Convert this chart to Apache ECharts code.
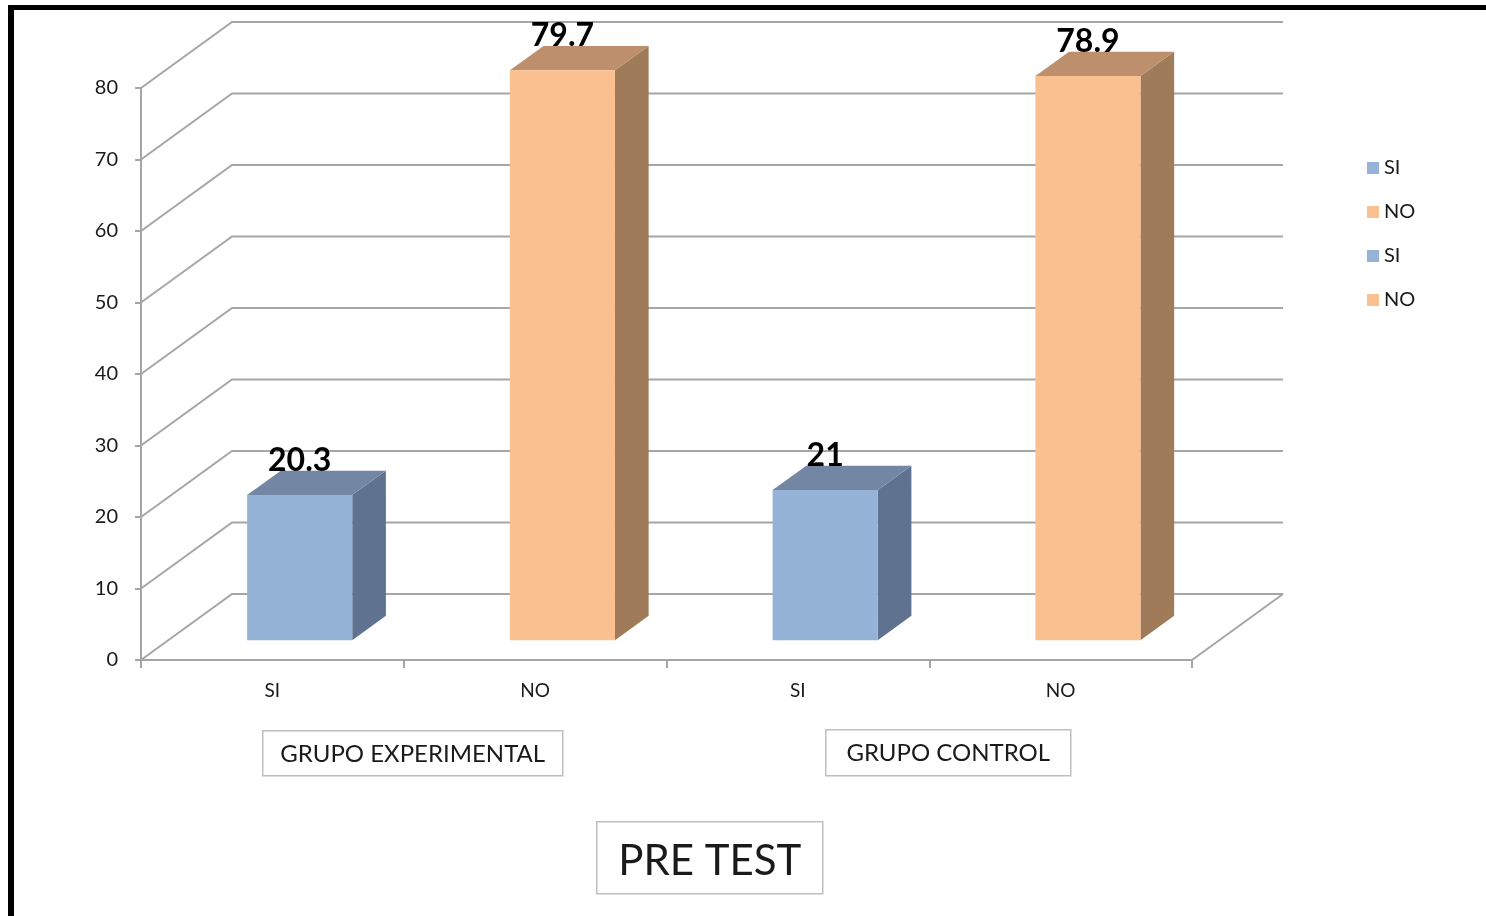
<!DOCTYPE html>
<html><head><meta charset="utf-8">
<script src="https://cdn.jsdelivr.net/npm/echarts@6/dist/echarts.min.js"></script>
<style>html,body{margin:0;padding:0;background:#fff}#c{width:1486px;height:916px}</style>
</head><body><div id="c"></div>
<script>
const categories = ['SI', 'NO', 'SI', 'NO'];
const seriesNames = ['SI', 'NO', 'SI\u200b', 'NO\u200b'];
const seriesValues = [20.3, 79.7, 21, 78.9];
const yTicks = [0, 10, 20, 30, 40, 50, 60, 70, 80];
const groupLabels = ['GRUPO EXPERIMENTAL', 'GRUPO CONTROL'];
const chartTitle = 'PRE TEST';

const DX = 91, DY = -66;
const F0 = 0.30, F1 = 0.67;
const BLUE = { front: '#95B3D7', side: '#5F7391', top: '#7387A5' };
const ORANGE = { front: '#FAC090', side: '#A07B59', top: '#BD8F6C' };
const palettes = [BLUE, ORANGE, BLUE, ORANGE];
const FONT = 'Lato, "Open Sans", sans-serif';
const GRID = '#A6A6A6';
const TXT = '#1a1a1a';

function barRender(pal) {
  return function (params, api) {
    const ci = api.value(0), v = api.value(1);
    const base = api.coord([ci, 0]), top = api.coord([ci, v]);
    const bw = api.size([1, 0])[0] * 0.4;
    const x0 = base[0] - bw / 2 + F0 * DX, x1 = x0 + bw;
    const yb = base[1] + F0 * DY, yt = top[1] + F0 * DY;
    const ddx = (F1 - F0) * DX, ddy = (F1 - F0) * DY;
    return { type: 'group', children: [
      { type: 'polygon', shape: { points: [[x1, yb], [x1 + ddx, yb + ddy], [x1 + ddx, yt + ddy], [x1, yt]] }, style: { fill: pal.side } },
      { type: 'polygon', shape: { points: [[x0, yt], [x1, yt], [x1 + ddx, yt + ddy], [x0 + ddx, yt + ddy]] }, style: { fill: pal.top } },
      { type: 'rect', shape: { x: x0, y: yt, width: bw, height: yb - yt }, style: { fill: pal.front } },
      { type: 'text', x: (x0 + x1) / 2, y: yt + ddy + 6, style: { text: String(v), font: 'bold 32px ' + FONT, fill: '#000', align: 'center', verticalAlign: 'bottom' } }
    ] };
  };
}

function wallRender(params, api) {
  const v = api.value(1);
  const p = api.coord([0, v]);
  const bw = api.size([1, 0])[0];
  const left = p[0] - bw / 2, right = left + categories.length * bw;
  const children = [{ type: 'polyline', shape: { points: [[left, p[1]], [left + DX, p[1] + DY], [right + DX, p[1] + DY]] }, style: { stroke: GRID, lineWidth: 2, fill: null } }];
  if (v === 0) children.push({ type: 'line', shape: { x1: right, y1: p[1], x2: right + DX, y2: p[1] + DY }, style: { stroke: GRID, lineWidth: 2 } });
  return { type: 'group', children };
}

const series = [{
  type: 'custom', name: '_wall', silent: true, z: 1,
  data: yTicks.map(v => [0, v]),
  renderItem: wallRender
}];
seriesValues.forEach((v, i) => {
  series.push({
    type: 'custom', name: seriesNames[i], z: 5,
    itemStyle: { color: palettes[i].front },
    data: [[i, v]],
    renderItem: barRender(palettes[i])
  });
});

function box(text, x, y, w, h, fs, dy) {
  return { type: 'group', left: x, top: y, children: [
    { type: 'rect', shape: { x: 0, y: 0, width: w, height: h }, style: { fill: '#fff', stroke: '#BFBFBF', lineWidth: 1.5 } },
    { type: 'text', x: w / 2, y: h / 2 + dy, style: { text, font: fs + 'px ' + FONT, fill: TXT, align: 'center', verticalAlign: 'middle' } }
  ] };
}

const chart = echarts.init(document.getElementById('c'));
chart.setOption({
  backgroundColor: '#fff',
  animation: false,
  grid: { left: 141, right: 294, top: 88, bottom: 256 },
  xAxis: {
    type: 'category', data: categories,
    axisLine: { lineStyle: { color: GRID, width: 2 } },
    axisTick: { show: true, length: 8, lineStyle: { color: GRID, width: 2 } },
    axisLabel: { fontSize: 19, color: TXT, fontFamily: FONT, margin: 21 }
  },
  yAxis: {
    type: 'value', min: 0, max: 80, interval: 10,
    axisLine: { show: true, lineStyle: { color: GRID, width: 2 } },
    axisTick: { show: true, length: 6, lineStyle: { color: GRID, width: 2 } },
    splitLine: { show: false },
    axisLabel: { fontSize: 20, color: TXT, fontFamily: FONT, margin: 23 }
  },
  legend: {
    data: seriesNames, orient: 'vertical', left: 1362, top: 153,
    icon: 'rect', itemWidth: 12, itemHeight: 12, itemGap: 24,
    textStyle: { fontSize: 20, color: TXT, fontFamily: FONT }
  },
  graphic: [
    { type: 'rect', left: 8, top: 5, shape: { width: 1478, height: 5 }, style: { fill: '#000' } },
    { type: 'rect', left: 8, top: 5, shape: { width: 6, height: 911 }, style: { fill: '#000' } },
    box(groupLabels[0], 262, 730, 300, 45, 24, 1),
    box(groupLabels[1], 825, 729, 245, 46, 24, 1),
    box(chartTitle, 596, 821, 226, 72, 42, 4)
  ],
  series
});
</script></body></html>
